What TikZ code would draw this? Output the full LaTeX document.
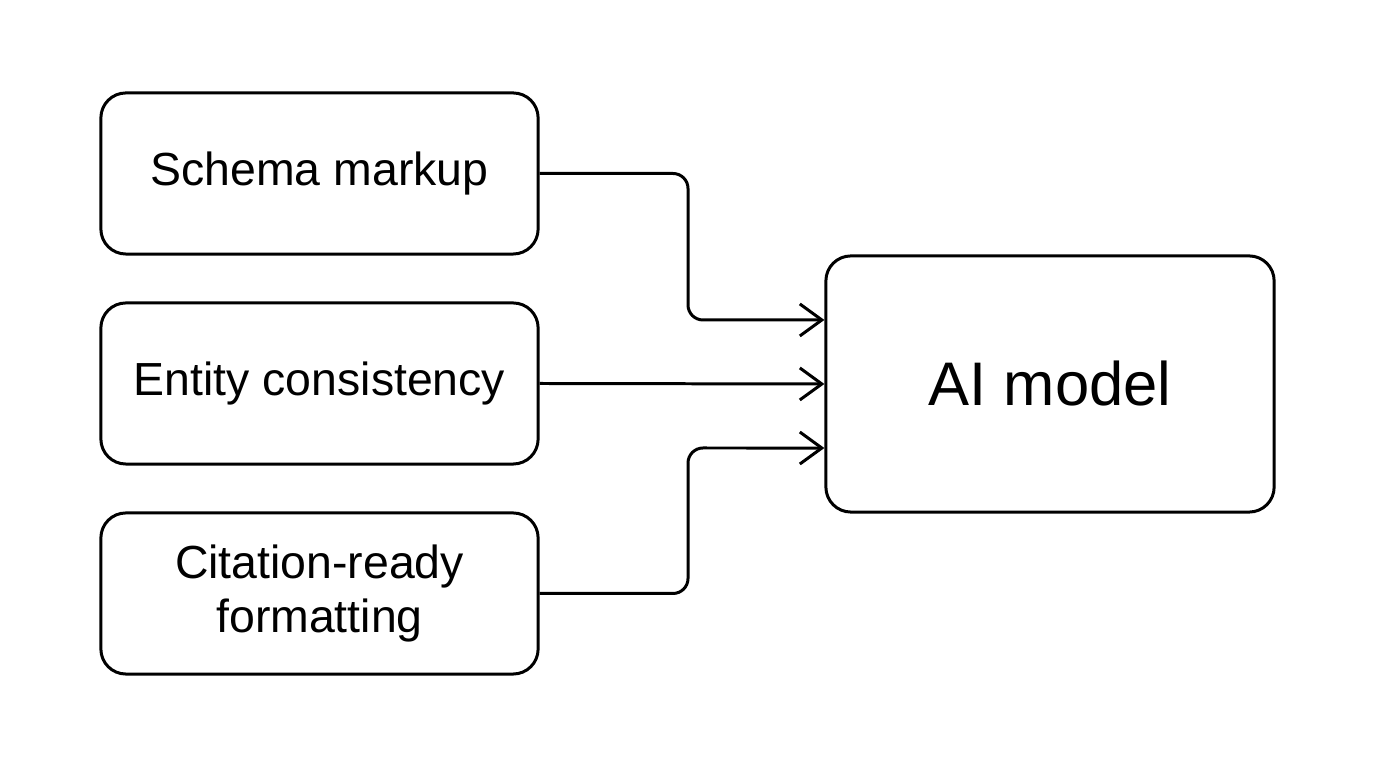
\documentclass[tikz,border=0pt]{standalone}
\usepackage{fontspec}
\setmainfont{Liberation Sans}
\usetikzlibrary{arrows.meta}

\begin{document}
\begin{tikzpicture}[x=0.01cm, y=-0.01cm,
    every node/.style={draw, rounded corners=0.25cm, line width=0.85pt, align=center, inner sep=0pt},
    source/.style={minimum width=4.37cm, minimum height=1.61cm, font=\fontsize{13.2}{15.6}\selectfont},
    target/.style={minimum width=4.48cm, minimum height=2.56cm, font=\fontsize{17.5}{21}\selectfont},
    conn/.style={line width=0.85pt, rounded corners=0.15cm, -{Straight Barb[length=0.22cm, width=0.32cm, line width=0.85pt]}}
]
\useasboundingbox (0,0) rectangle (1376,768);

% inputs
\node[source] (schema) at (319.5,173.5) {\raisebox{-1pt}{Schema markup}};
\node[source] (entity) at (319.5,383.5) {\raisebox{-1pt}{Entity consistency}};
\node[source] (citation) at (319.5,593.5) {\raisebox{-1.5pt}{Citation-ready}\\\raisebox{-1.5pt}{formatting}};

% model
\node[target] (model) at (1050,384) {AI model};

\draw[conn] (schema.east) -| (688,320) -- ([yshift=0.64cm]model.west);
\draw[conn] (entity.east) -- (model.west);
\draw[conn] (citation.east) -| (688,448) -- ([yshift=-0.64cm]model.west);

\end{tikzpicture}
\end{document}
